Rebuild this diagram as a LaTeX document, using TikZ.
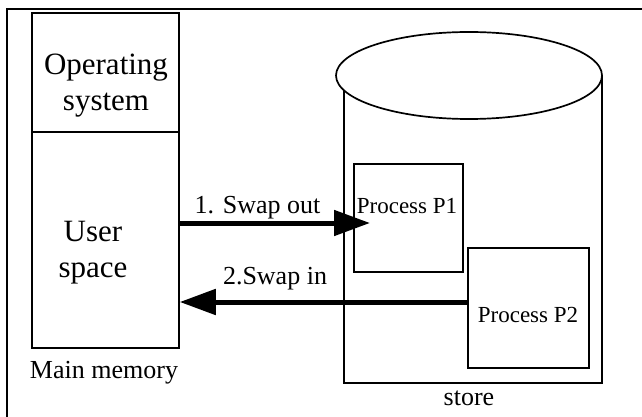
\documentclass[tikz,border=0pt]{standalone}
\usepackage{fontspec}
\setmainfont{Liberation Serif}
\usetikzlibrary{arrows.meta}

\begin{document}
\begin{tikzpicture}[x=1pt,y=-1pt,
		box/.style={rectangle,draw,line width=1.5pt,inner sep=0pt},
		swap/.style={line width=5pt,-{Triangle[length=36pt,width=25pt]}},
		bigtxt/.style={font=\fontsize{31}{36}\selectfont,align=center,inner sep=0pt},
		midtxt/.style={font=\fontsize{26}{30}\selectfont,inner sep=0pt,anchor=base},
		smalltxt/.style={font=\fontsize{23}{27}\selectfont,inner sep=0pt,anchor=base}]
		\useasboundingbox (0,0) rectangle (642,417);

		% frame of the figure
		\draw[line width=1.5pt] (642,9) -- (7,9) -- (7,417);

		% main memory
		\draw (105.5,72.5) node (os) [box,minimum width=147pt,minimum height=119pt] {};
		\draw (105.5,240) node (user) [box,minimum width=147pt,minimum height=216pt] {};
		\draw (106,85.5) node (oslbl) [bigtxt] {Operating\\system};
		\draw (93,253) node (userlbl) [bigtxt] {User\\space};
		\draw (104,378) node (mainlbl) [midtxt] {Main memory};

		% store (cylinder)
		\draw[line width=1.5pt] (344,88) -- (344,383) -- (602,383) -- (602,75.5);
		\draw[line width=1.7pt,fill=white] (469,75.5) ellipse [x radius=133, y radius=43.5];
		\draw (469,405) node (storelbl) [midtxt] {store};

		\draw (408.5,218) node (p1) [box,minimum width=109pt,minimum height=108pt] {};
		\draw (528.5,308) node (p2) [box,minimum width=121pt,minimum height=120pt] {};
		\draw (407,213) node (p1lbl) [smalltxt] {Process P1};
		\draw (528,322) node (p2lbl) [smalltxt] {Process P2};

		% swapping
		\coordinate (tip1) at (370,223);
		\coordinate (row2) at (0,302);
		\draw[swap] (user.east |- tip1) -- (tip1);
		\draw[swap] (p2.west |- row2) -- (user.east |- row2);
		\draw (257.5,213) node (outlbl) [midtxt] {1. Swap out};
		\draw (275,284) node (inlbl) [midtxt] {2.Swap in};
	\end{tikzpicture}
\end{document}
